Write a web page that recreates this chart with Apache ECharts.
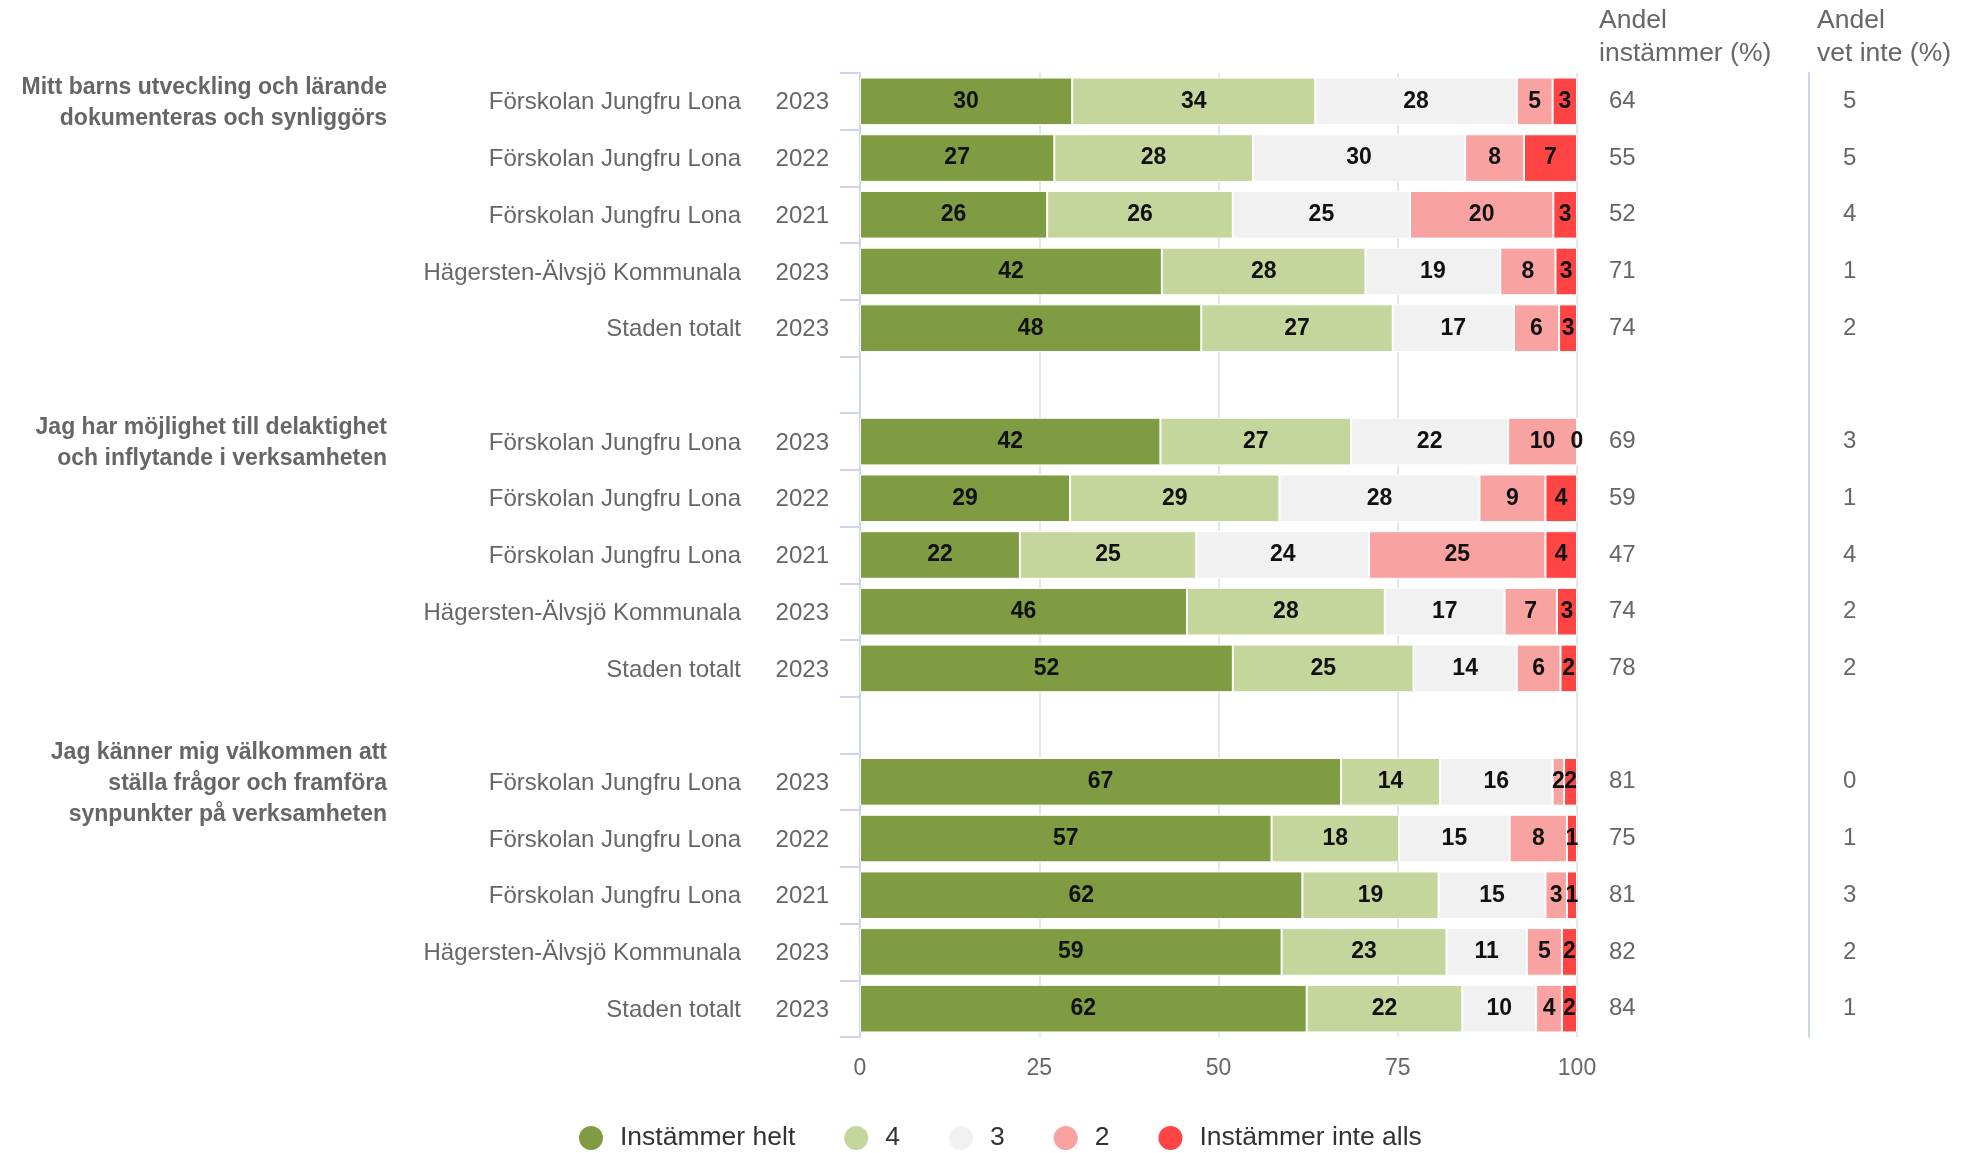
<!DOCTYPE html>
<html>
<head>
<meta charset="utf-8">
<script src="https://cdn.jsdelivr.net/npm/echarts@6/dist/echarts.min.js"></script>
<style>
html,body{margin:0;padding:0;background:#fff;}
#c{width:1970px;height:1153px;}
</style>
</head>
<body>
<div id="c"></div>
<script>
// ---- data ----
const rowNames = ['Förskolan Jungfru Lona','Förskolan Jungfru Lona','Förskolan Jungfru Lona','Hägersten-Älvsjö Kommunala','Staden totalt','',
                  'Förskolan Jungfru Lona','Förskolan Jungfru Lona','Förskolan Jungfru Lona','Hägersten-Älvsjö Kommunala','Staden totalt','',
                  'Förskolan Jungfru Lona','Förskolan Jungfru Lona','Förskolan Jungfru Lona','Hägersten-Älvsjö Kommunala','Staden totalt'];
const rowYears = ['2023','2022','2021','2023','2023','',
                  '2023','2022','2021','2023','2023','',
                  '2023','2022','2021','2023','2023'];
const groupTitles = ['Mitt barns utveckling och lärande\ndokumenteras och synliggörs',
                     'Jag har möjlighet till delaktighet\noch inflytande i verksamheten',
                     'Jag känner mig välkommen att\nställa frågor och framföra\nsynpunkter på verksamheten'];
const groupFirstRow = [0, 6, 12];
const seriesNames = ['Instämmer helt','4','3','2','Instämmer inte alls'];
const helt     = [29.6, 27.1, 26.1, 42.1, 47.6, null, 41.9, 29.3, 22.3, 45.6, 52.0, null, 67.1, 57.4, 61.7, 58.8, 62.3];
const fyra     = [33.9, 27.7, 25.9, 28.4, 26.7, null, 26.6, 29.2, 24.6, 27.6, 25.2, null, 13.8, 17.8, 19.0, 23.0, 21.7];
const tre      = [28.1, 29.6, 24.7, 18.8, 16.9, null, 21.9, 27.9, 24.1, 16.7, 14.4, null, 15.7, 15.4, 14.9, 11.2, 10.3];
const tva      = [5.0, 8.2, 20.0, 7.7, 6.3, null, 9.6, 9.2, 24.6, 7.3, 6.1, null, 1.6, 8.0, 3.0, 4.9, 3.6];
const inteAlls = [3.4, 7.4, 3.3, 3.0, 2.5, null, 0, 4.4, 4.4, 2.8, 2.3, null, 1.8, 1.4, 1.4, 2.1, 2.1];
const andelInstammer = ['64','55','52','71','74','','69','59','47','74','78','','81','75','81','82','84'];
const andelVetInte   = ['5','5','4','1','2','','3','1','4','2','2','','0','1','3','2','1'];
const xTicks = [0, 25, 50, 75, 100];
const headers = ['Andel\ninstämmer (%)', 'Andel\nvet inte (%)'];

// ---- chart ----
const FONT = '"Liberation Sans", Arial, Helvetica, sans-serif';
const colors = ['#7f9c43', '#c4d69c', '#f1f1f1', '#f9a2a2', '#ff4444'];
const seriesData = [helt, fyra, tre, tva, inteAlls];
const cats = rowNames.map((_, i) => 'r' + i);

const chart = echarts.init(document.getElementById('c'), null, {renderer: 'canvas'});

const option = {
  animation: false,
  backgroundColor: '#fff',
  textStyle: {fontFamily: FONT},
  color: colors,
  grid: {left: 860, right: 393, top: 73, bottom: 116, containLabel: false},
  legend: {
    data: seriesNames,
    left: 572, top: 1119,
    icon: 'circle',
    itemWidth: 48, itemHeight: 26, itemGap: 47,
    textStyle: {fontSize: 26.5, color: '#333', fontFamily: FONT}
  },
  xAxis: {
    type: 'value', min: xTicks[0], max: xTicks[xTicks.length - 1], interval: 25,
    axisLine: {show: false}, axisTick: {show: false},
    axisLabel: {fontSize: 23, color: '#666', margin: 20, fontFamily: FONT,
      formatter: v => xTicks.indexOf(v) >= 0 ? String(v) : ''},
    splitLine: {show: true, lineStyle: {color: '#e6e6e6', width: 2}}
  },
  yAxis: [
    {
      type: 'category', data: cats, inverse: true,
      axisLine: {show: true, lineStyle: {color: '#ccd6eb', width: 2}},
      axisTick: {show: true, length: 20, lineStyle: {color: '#ccd6eb', width: 2}},
      axisLabel: {
        margin: 31, fontFamily: FONT,
        formatter: (v, i) => rowNames[i] ? '{n|' + rowNames[i] + '}{y|' + rowYears[i] + '}' : '',
        rich: {
          n: {width: 440, align: 'right', fontSize: 24, color: '#666', fontFamily: FONT, padding: [3, 0, 0, 0]},
          y: {width: 88, align: 'right', fontSize: 24, color: '#666', fontFamily: FONT, padding: [3, 0, 0, 0]}
        }
      },
      splitLine: {show: false}
    },
    {
      type: 'category', data: cats, inverse: true, position: 'right', offset: 0,
      axisLine: {show: false}, axisTick: {show: false}, splitLine: {show: false},
      axisLabel: {margin: 32, fontSize: 24, color: '#666', fontFamily: FONT, padding: [3, 0, 0, 0],
        formatter: (v, i) => andelInstammer[i]}
    },
    {
      type: 'category', data: cats, inverse: true, position: 'right', offset: 232,
      axisLine: {show: true, lineStyle: {color: '#ccd6eb', width: 2}},
      axisTick: {show: false}, splitLine: {show: false},
      axisLabel: {margin: 34, fontSize: 24, color: '#666', fontFamily: FONT, padding: [3, 0, 0, 0],
        formatter: (v, i) => andelVetInte[i]}
    }
  ],
  series: seriesNames.map((name, k) => ({
    name: name, type: 'bar', stack: 'total', yAxisIndex: 0,
    barCategoryGap: '16%',
    data: seriesData[k].map(v => v === null ? '-' : v),
    itemStyle: {color: colors[k], borderColor: '#fff', borderWidth: 1},
    label: {
      show: true, position: 'inside', fontSize: 23, fontWeight: 'bold', color: '#111',
      fontFamily: FONT, padding: [3, 0, 0, 0],
      formatter: p => String(Math.round(p.value))
    },
    emphasis: {disabled: true}
  }))
};
chart.setOption(option);

// group titles & column headers
const graphics = groupTitles.map((t, g) => {
  const y = chart.convertToPixel({yAxisIndex: 0}, cats[groupFirstRow[g]]);
  return {
    type: 'text', x: 387, y: y + 2,
    style: {text: t, fill: '#666', font: 'bold 23px ' + FONT, align: 'right',
      verticalAlign: 'middle', lineHeight: 31}
  };
});
graphics.push({type: 'text', x: 1599, y: 37,
  style: {text: headers[0], fill: '#666', font: '26.5px ' + FONT, align: 'left', verticalAlign: 'middle', lineHeight: 33}});
graphics.push({type: 'text', x: 1817, y: 37,
  style: {text: headers[1], fill: '#666', font: '26.5px ' + FONT, align: 'left', verticalAlign: 'middle', lineHeight: 33}});
chart.setOption({graphic: graphics});
</script>
</body>
</html>
